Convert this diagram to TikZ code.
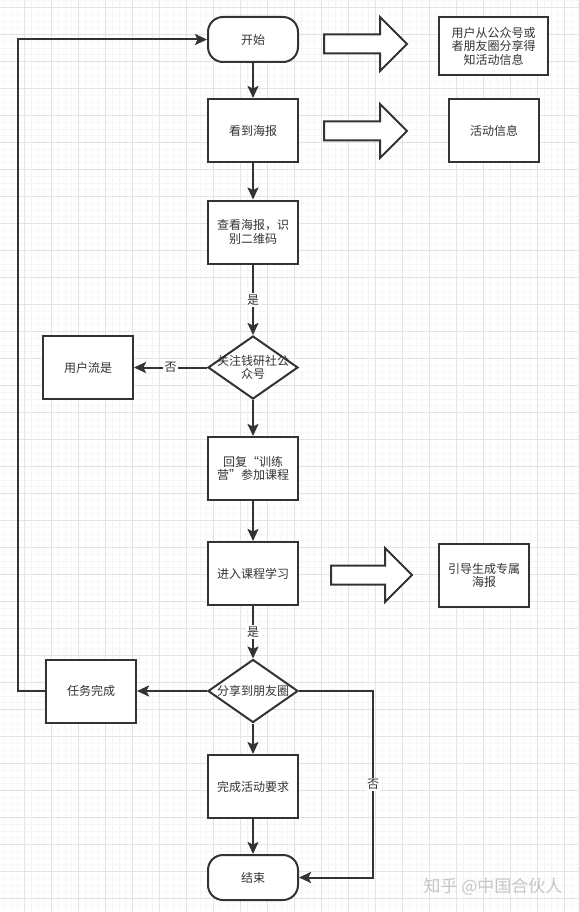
\documentclass[tikz,border=0pt]{standalone}
\usepackage{xcolor}
\usepackage{fontspec}
\setmainfont{Noto Sans CJK SC}
\usepackage{tikz}
\tikzset{>=latex}
\usetikzlibrary{arrows.meta, shapes.geometric}
\definecolor{ink}{HTML}{333333}
\def\fsz{\fontsize{12}{13.5}\selectfont}
\def\lw{2pt}

\tikzset{
  box/.style={draw=ink, line width=\lw, fill=white, minimum width=90pt, minimum height=63pt, inner sep=0pt, align=center, text=ink, font=\fsz},
  terminal/.style={box, minimum height=45pt, rounded corners=15pt},
  decision/.style={diamond, draw=ink, line width=\lw, fill=white, minimum width=90pt, minimum height=63pt, inner sep=0pt},
  txt/.style={align=center, text=ink, font=\fsz, inner sep=0pt},
  flow/.style={draw=ink, line width=\lw, -{Stealth[length=12pt, width=11pt, inset=2.5pt]}},
  tag/.style={fill=white, inner sep=1.5pt, text=ink, font=\fsz},
  bigarrow/.style={draw=ink, line width=\lw, fill=white, line join=miter}
}

\begin{document}
\begin{tikzpicture}[x=1pt, y=-1pt]
   \useasboundingbox (0,0) rectangle (578,912);
   \fill[white] (0,0) rectangle (578,912);

   % grid
   \foreach \x in {4.05, 10.8,...,578}{
        \draw[gray!7, line width=0.5pt] (\x, 0) -- (\x, 912);
   }
   \foreach \y in {0.55, 7.3,...,912}{
        \draw[gray!7, line width=0.5pt] (0, \y) -- (578, \y);
   }
   \foreach \x in {24.3, 51.3,...,578}{
        \draw[gray!22, line width=0.6pt] (\x, 0) -- (\x, 912);
   }
   \foreach \y in {7.3, 34.3,...,912}{
        \draw[gray!22, line width=0.6pt] (0, \y) -- (578, \y);
   }

   % main column
   \node[terminal] (start) at (253, 39.5) {开始};
   \node[box] (poster) at (253, 130.5) {看到海报};
   \node[box] (scan) at (253, 232) {查看海报，识\\别二维码};
   \node[decision] (follow) at (253, 367.5) {};
   \node[txt] (followtxt) at (follow) {关注钱研社公\\众号};
   \node[box] (userflow) at (88, 367.5) {用户流是};
   \node[box] (reply) at (253, 468.5) {回复“训练\\营”参加课程};
   \node[box] (study) at (253, 573.5) {进入课程学习};
   \node[decision] (share) at (253, 691) {};
   \node[txt] (sharetxt) at (share) {分享到朋友圈};
   \node[box] (done) at (91, 691) {任务完成};
   \node[box] (require) at (253, 786.5) {完成活动要求};
   \node[terminal] (finish) at (253, 877.5) {结束};

   % side notes
   \node[box, minimum width=109pt, minimum height=58pt] (info1) at (493.5, 46) {用户从公众号或\\者朋友圈分享得\\知活动信息};
   \node[box] (info2) at (494, 130.5) {活动信息};
   \node[box] (info3) at (484, 575.5) {引导生成专属\\海报};

   \foreach \bx/\by/\bl in {324/44/83, 324/131/83, 331/575/81}{
        \draw[bigarrow] (\bx, \by-9.5) -- (\bx+\bl-27, \by-9.5) -- (\bx+\bl-27, \by-27) -- (\bx+\bl, \by)
            -- (\bx+\bl-27, \by+27) -- (\bx+\bl-27, \by+9.5) -- (\bx, \by+9.5) -- cycle;
   }

   % connectors
   \draw[flow] (start) -- (poster);
   \draw[flow] (poster) -- (scan);
   \draw[flow] (scan) -- node[tag] {是} (follow);
   \draw[flow] (follow) -- node[tag] {否} (userflow);
   \draw[flow] (follow) -- (reply);
   \draw[flow] (reply) -- (study);
   \draw[flow] (study) -- node[tag] {是} (share);
   \draw[flow] (share) -- (done);
   \draw[flow] (share) -- (require);
   \draw[flow] (require) -- (finish);
   \draw[flow] (share.east) -- ++(74, 0) |- node[tag, pos=0.25] {否} (finish.east);
   \draw[flow] (done.west) -- ++(-27, 0) |- (start.west);

   \node[text=gray!45, font=\fontsize{17}{17}\selectfont, anchor=east] (mark) at (566, 887) {知乎 @中国合伙人};

\end{tikzpicture}
\end{document}
